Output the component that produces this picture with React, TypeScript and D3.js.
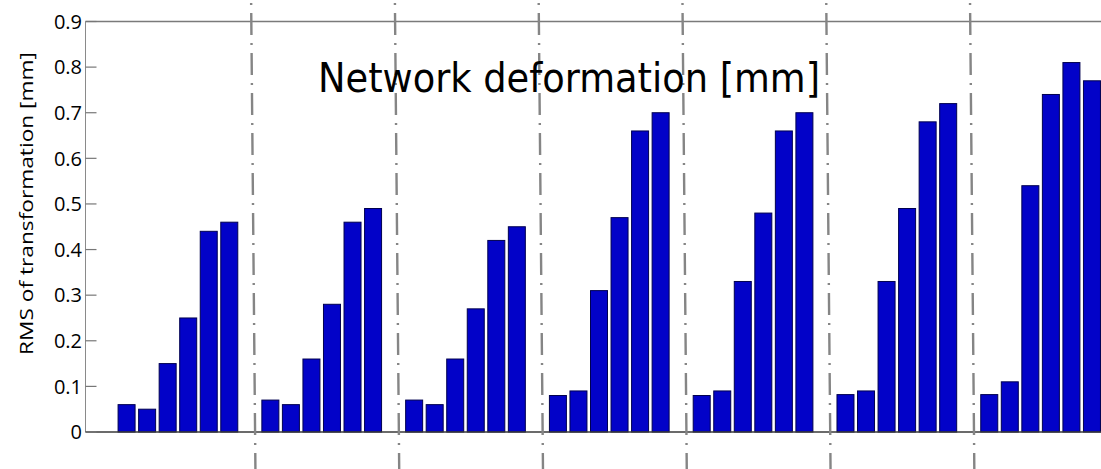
import React from 'react';
import * as d3 from 'd3';

// Data (RMS of transformation [mm]) — 7 groups of 6 bars
const group1 = [0.06, 0.05, 0.15, 0.25, 0.44, 0.46];
const group2 = [0.07, 0.06, 0.16, 0.28, 0.46, 0.49];
const group3 = [0.07, 0.06, 0.16, 0.27, 0.42, 0.45];
const group4 = [0.08, 0.09, 0.31, 0.47, 0.66, 0.70];
const group5 = [0.08, 0.09, 0.33, 0.48, 0.66, 0.70];
const group6 = [0.082, 0.09, 0.33, 0.49, 0.68, 0.72];
const group7 = [0.082, 0.11, 0.54, 0.74, 0.81, 0.77];
const groups = [group1, group2, group3, group4, group5, group6, group7];

const yTicks = [0, 0.1, 0.2, 0.3, 0.4, 0.5, 0.6, 0.7, 0.8, 0.9];
const yTickLabels = ['0', '0.1', '0.2', '0.3', '0.4', '0.5', '0.6', '0.7', '0.8', '0.9'];

const title = 'Network deformation [mm]';
const yLabel = 'RMS of transformation [mm]';

const slotsPerGroup = 7;

export default function App() {
  const W = 1101;
  const H = 469;
  const pitch = 20.54;
  const left = 85.5;
  const x = d3.scaleLinear().domain([-2, 49]).range([left, left + 51 * pitch]);
  const y = d3.scaleLinear().domain([0, 0.9]).range([432, 21.5]);
  const barW = 17;

  const bars: { slot: number; v: number }[] = [];
  groups.forEach((g, gi) => g.forEach((v, j) => bars.push({ slot: gi * slotsPerGroup + j, v })));
  const separators = d3.range(groups.length - 1).map((g) => g * slotsPerGroup + 6);

  return (
    <svg width={W} height={H} style={{ position: 'absolute', left: 0, top: 0, background: '#fff' }}>
      <rect x={0} y={0} width={W} height={H} fill="#fff" />
      {/* axes frame */}
      <line x1={x(-2)} x2={W} y1={y(0.9)} y2={y(0.9)} stroke="#7a7a7a" strokeWidth={1.5} />
      <line x1={x(-2)} x2={x(-2)} y1={y(0.9)} y2={y(0)} stroke="#8a8a8a" strokeWidth={1} />
      {/* bars */}
      {bars.map((b, i) => (
        <rect
          key={i}
          x={x(b.slot) - barW / 2}
          y={y(b.v)}
          width={barW}
          height={y(0) - y(b.v)}
          fill="#0202c8"
          stroke="#000050"
          strokeWidth={1}
        />
      ))}
      <line x1={x(-2)} x2={W} y1={y(0)} y2={y(0)} stroke="#3a3a3a" strokeWidth={1.3} />
      {/* y ticks */}
      {yTicks.map((t, i) => (
        <g key={i}>
          <line x1={x(-2)} x2={x(-2) + 11} y1={y(t)} y2={y(t)} stroke="#777" strokeWidth={1.2} />
          <text
            x={82}
            y={y(t)}
            dy="0.36em"
            textAnchor="end"
            style={{ fontFamily: "'Open Sans', sans-serif", fontSize: '20px' }}
            fill="#000"
          >
            {yTickLabels[i]}
          </text>
        </g>
      ))}
      {/* separators */}
      {separators.map((s, i) => (
        <line
          key={i}
          x1={x(s) + 1.3}
          x2={x(s) + 5.6}
          y1={0}
          y2={H}
          stroke="#858585"
          strokeWidth={2.4}
          strokeDasharray="22 8 2 8"
          strokeDashoffset={27}
        />
      ))}
      {/* title */}
      <text
        x={318}
        y={92}
        style={{ fontFamily: "'DejaVu Sans', sans-serif", fontSize: '40px' }}
        textLength={502}
        lengthAdjust="spacingAndGlyphs"
        fill="#000"
      >
        {title}
      </text>
      {/* y label */}
      <text
        transform={`translate(33, ${(52 + 355) / 2}) rotate(-90)`}
        textAnchor="middle"
        style={{ fontFamily: "'Open Sans', sans-serif", fontSize: '19px' }}
        textLength={303}
        lengthAdjust="spacingAndGlyphs"
        fill="#000"
      >
        {yLabel}
      </text>
    </svg>
  );
}
